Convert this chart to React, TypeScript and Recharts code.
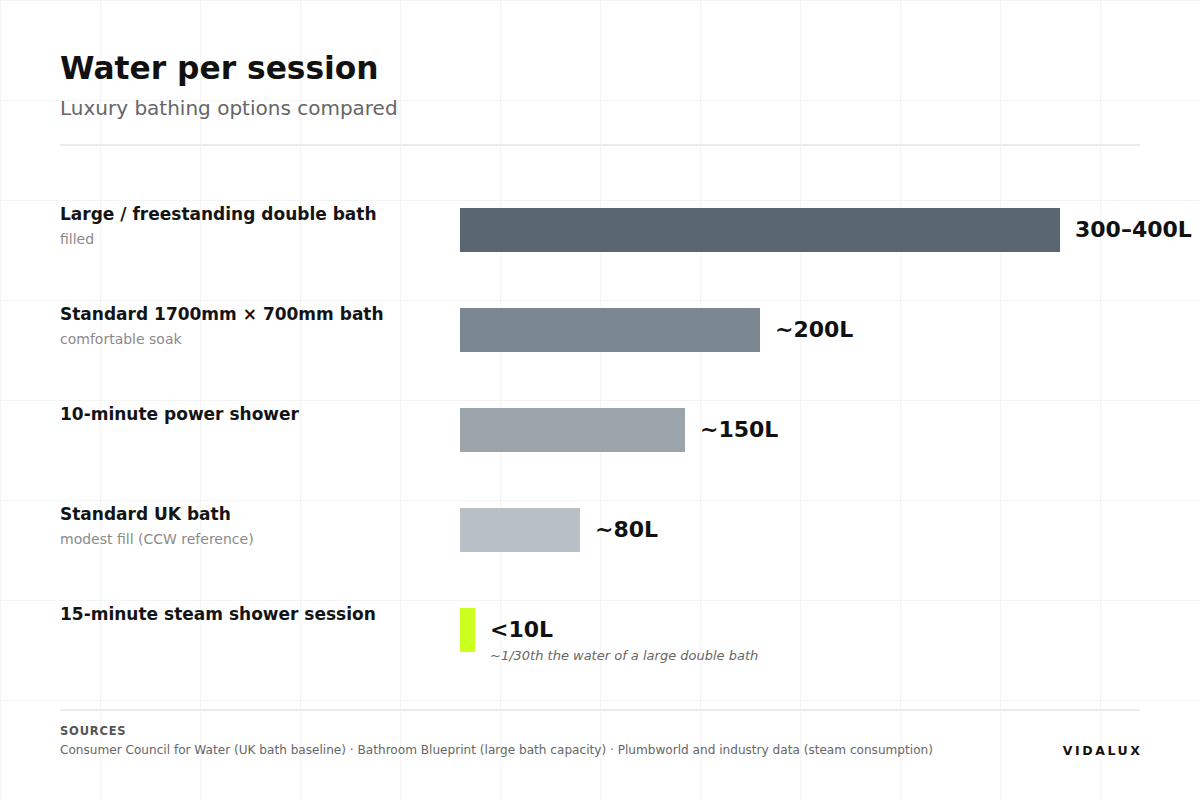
import React from "react";
import { BarChart, Bar, XAxis, YAxis, Cell, LabelList } from "recharts";

const options = [
  "Large / freestanding double bath",
  "Standard 1700mm × 700mm bath",
  "10-minute power shower",
  "Standard UK bath",
  "15-minute steam shower session",
];
const notes = ["filled", "comfortable soak", "", "modest fill (CCW reference)", ""];
const litres = [400, 200, 150, 80, 10];
const valueLabels = ["300–400L", "~200L", "~150L", "~80L", "<10L"];
const barColors = ["#5b6770", "#7b8790", "#9ba3ab", "#b8bfc6", "#ccff1f"];
const steamNote = "~1/30th the water of a large double bath";

const FONT = "'DejaVu Sans', sans-serif";

const data = options.map((name, i) => ({ name, litres: litres[i] }));

function RowTick(props: any) {
  const { y, payload } = props;
  const i = options.indexOf(payload.value);
  return (
    <g>
      <text x={60} y={y - 16} dominantBaseline="central" fontFamily={FONT} fontSize={17} fontWeight={700} fill="#141414">
        {payload.value}
      </text>
      {notes[i] ? (
        <text x={60} y={y + 9} dominantBaseline="central" fontFamily={FONT} fontSize={14} fill="#8a8a8a">
          {notes[i]}
        </text>
      ) : null}
    </g>
  );
}

function ValueLabel(props: any) {
  const { x, y, width, height, index } = props;
  const cx = x + width + 15;
  const cy = y + height / 2 - 1;
  return (
    <g>
      <text x={cx} y={cy} dominantBaseline="central" fontFamily={FONT} fontSize={22} fontWeight={700} fill="#111">
        {valueLabels[index]}
      </text>
      {index === options.length - 1 ? (
        <text x={cx} y={cy + 26} dominantBaseline="central" fontFamily={FONT} fontSize={13} fontStyle="italic" fill="#666">
          {steamNote}
        </text>
      ) : null}
    </g>
  );
}

export default function App() {
  return (
    <div
      style={{
        position: "absolute",
        left: 0,
        top: 0,
        width: 1200,
        height: 800,
        background: "#fff",
        backgroundImage:
          "linear-gradient(to right, #f4f4f4 1px, transparent 1px), linear-gradient(to bottom, #f4f4f4 1px, transparent 1px)",
        backgroundSize: "100px 100px",
        fontFamily: FONT,
        overflow: "hidden",
      }}
    >
      <div style={{ position: "absolute", left: 60, top: 49, fontSize: 31.3, fontWeight: 700, color: "#111", lineHeight: "38px" }}>
        Water per session
      </div>
      <div style={{ position: "absolute", left: 60, top: 95, fontSize: 20, color: "#666", lineHeight: "26px" }}>
        Luxury bathing options compared
      </div>
      <div style={{ position: "absolute", left: 60, top: 144, width: 1080, height: 2, background: "#ebebeb" }} />

      <div style={{ position: "absolute", left: 0, top: 0 }}>
        <BarChart
          width={1200}
          height={800}
          data={data}
          layout="vertical"
          margin={{ top: 180, right: 140, bottom: 120, left: 60 }}
        >
          <XAxis type="number" domain={[0, 400]} hide />
          <YAxis type="category" dataKey="name" width={400} axisLine={false} tickLine={false} tick={<RowTick />} />
          <Bar dataKey="litres" barSize={44} isAnimationActive={false}>
            {data.map((d, i) => (
              <Cell key={d.name} fill={barColors[i]} />
            ))}
            <LabelList dataKey="litres" content={<ValueLabel />} />
          </Bar>
        </BarChart>
      </div>

      <div style={{ position: "absolute", left: 60, top: 709, width: 1080, height: 2, background: "#ebebeb" }} />
      <div style={{ position: "absolute", left: 60, top: 724, fontSize: 11.5, fontWeight: 700, color: "#555", letterSpacing: 0.8 }}>
        SOURCES
      </div>
      <div style={{ position: "absolute", left: 60, top: 743, fontSize: 12.1, color: "#666" }}>
        Consumer Council for Water (UK bath baseline) · Bathroom Blueprint (large bath capacity) · Plumbworld and industry data (steam consumption)
      </div>
      <div style={{ position: "absolute", right: 60, top: 743, fontSize: 12.5, fontWeight: 700, color: "#111", letterSpacing: 2.6, marginRight: -2.6 }}>
        VIDALUX
      </div>
    </div>
  );
}
